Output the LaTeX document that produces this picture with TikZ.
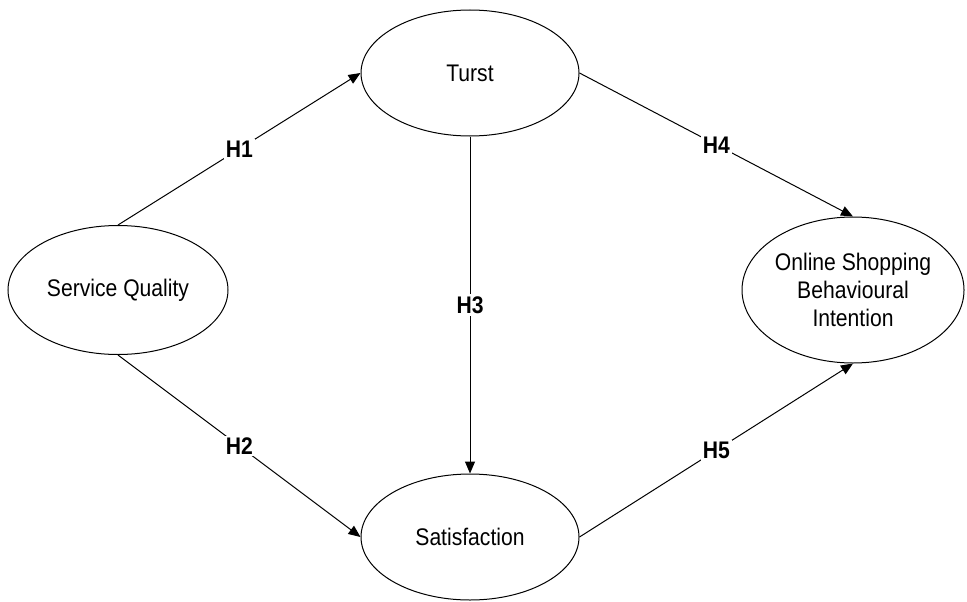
\documentclass[tikz,border=0pt]{standalone}
\usepackage{fontspec}
\setmainfont{Liberation Sans}[FakeStretch=0.88]
\usetikzlibrary{shapes.geometric,arrows.meta}
\begin{document}
\begin{tikzpicture}[x=0.5pt, y=0.5pt,
    construct/.style={draw, ellipse, line width=0.5pt, inner sep=0pt, align=center,
      font=\fontsize{12}{14}\selectfont},
    hyp/.style={fill=white, inner sep=1pt, font=\fontsize{12}{14}\selectfont\bfseries},
    link/.style={line width=0.5pt, -{Triangle[length=6pt,width=5pt]}}]
   \useasboundingbox (0,0) rectangle (967,601);
   \node[construct, minimum width=110pt, minimum height=64.5pt] (sq) at (118,311) {Service Quality};
   \node[construct, minimum width=109pt, minimum height=63pt] (turst) at (470,528) {Turst};
   \node[construct, minimum width=109pt, minimum height=63pt] (sat) at (470,64) {Satisfaction};
   \node[construct, minimum width=111pt, minimum height=73pt] (osbi) at (853,311) {Online Shopping\\Behavioural\\Intention};
   \draw[link] (sq.north) -- node[hyp] (h1) {H1} (turst.west);
   \draw[link] (sq.south) -- node[hyp] (h2) {H2} (sat.west);
   \draw[link] (turst.south) -- node[hyp] (h3) {H3} (sat.north);
   \draw[link] (turst.east) -- node[hyp] (h4) {H4} (osbi.north);
   \draw[link] (sat.east) -- node[hyp] (h5) {H5} (osbi.south);
  \end{tikzpicture}
\end{document}
